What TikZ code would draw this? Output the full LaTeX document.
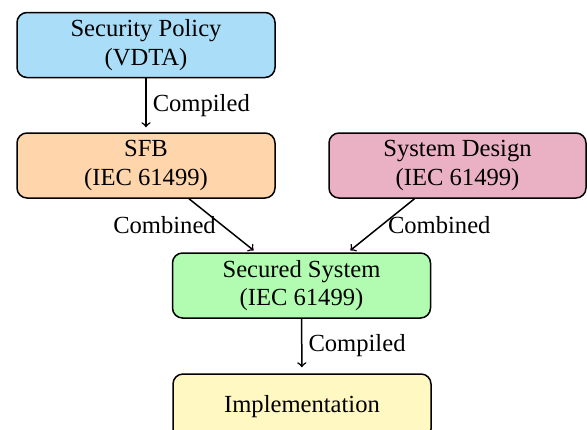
\documentclass[tikz,border=0pt]{standalone}
\usepackage{fontspec}
\setmainfont{Liberation Serif}
\usetikzlibrary{arrows}
\definecolor{pblue}{RGB}{170,222,248}
\definecolor{porange}{RGB}{255,214,172}
\definecolor{ppink}{RGB}{234,176,196}
\definecolor{pgreen}{RGB}{178,252,178}
\definecolor{pyellow}{RGB}{255,248,194}
\begin{document}
\begin{tikzpicture}[x=0.5pt,y=-0.5pt,
  box/.style={draw=black, line width=0.75pt, rounded corners=5pt, minimum width=129pt, minimum height=32.5pt, align=center, inner sep=0pt, font=\fontsize{12.3pt}{14.2pt}\selectfont},
  conn/.style={->, >=to, line width=0.75pt},
  lbl/.style={font=\fontsize{12.3pt}{14pt}\selectfont, inner sep=3pt}]
\useasboundingbox (0,0) rectangle (587,429);
\node[box, fill=pblue] (pol) at (146,45) {Security Policy\\(VDTA)};
\node[box, fill=porange] (sfb) at (146,165.5) {SFB\\(IEC 61499)};
\node[box, fill=ppink, minimum width=128.5pt] (sd) at (457.5,165.5) {System Design\\(IEC 61499)};
\node[box, fill=pgreen] (ss) at (301.5,285.5) {Secured System\\(IEC 61499)};
\node[box, fill=pyellow] (impl) at (302,406.5) {Implementation};
\draw[conn, shorten >=2.5pt] (pol) -- node[lbl, right] {Compiled} (sfb);
\draw[conn, shorten >=1.5pt] ([xshift=21.5pt]sfb.south) -- node[lbl, left, pos=0.5] {Combined} ([xshift=-22.75pt]ss.north);
\draw[conn, shorten >=1.5pt] ([xshift=-21.5pt]sd.south) -- node[lbl, right, pos=0.5] {Combined} ([xshift=23.25pt]ss.north);
\draw[conn, shorten >=3pt] (ss) -- node[lbl, right] {Compiled} (impl);
\end{tikzpicture}
\end{document}
